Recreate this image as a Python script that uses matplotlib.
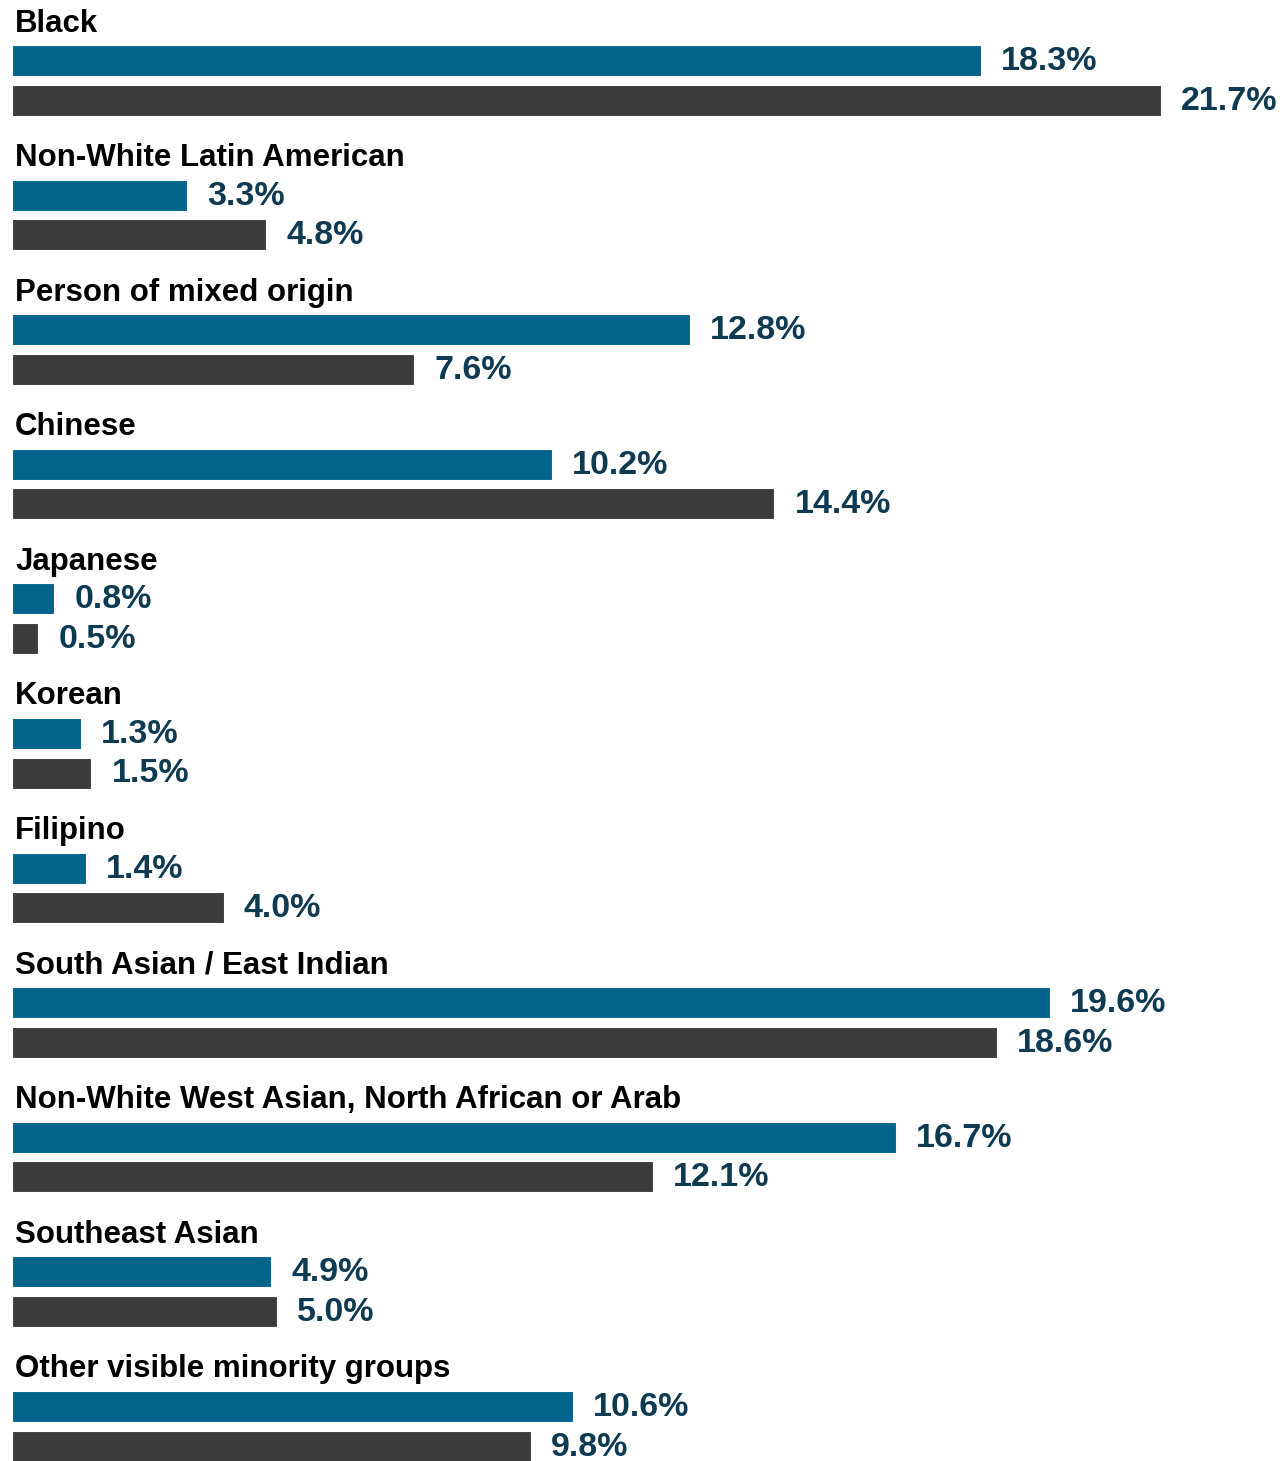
import matplotlib
matplotlib.use("Agg")
import matplotlib.pyplot as plt
from matplotlib import font_manager

categories = [
    "Black",
    "Non-White Latin American",
    "Person of mixed origin",
    "Chinese",
    "Japanese",
    "Korean",
    "Filipino",
    "South Asian / East Indian",
    "Non-White West Asian, North African or Arab",
    "Southeast Asian",
    "Other visible minority groups",
]
series_a = [18.3, 3.3, 12.8, 10.2, 0.8, 1.3, 1.4, 19.6, 16.7, 4.9, 10.6]
series_b = [21.7, 4.8, 7.6, 14.4, 0.5, 1.5, 4.0, 18.6, 12.1, 5.0, 9.8]

BLUE = "#02638B"
GREY = "#3C3C3C"
VALUE_COLOR = "#0E3A52"

names = {f.name for f in font_manager.fontManager.ttflist}
narrow = "Liberation Sans Narrow" if "Liberation Sans Narrow" in names else "Liberation Sans"

W, H = 1288, 1461
fig = plt.figure(figsize=(W / 100, H / 100), dpi=100)
ax = fig.add_axes([12 / W, 0, 1 - 12 / W, 1])
ax.set_xlim(0, (W - 12) / 52.95)
ax.set_ylim(H, 0)
ax.axis("off")

group_step = 134.6
first_center = 60.5
pair_gap = 39.5
bar_h = 31
pad = 20 / 52.95

for i, (cat, a, b) in enumerate(zip(categories, series_a, series_b)):
    ya = first_center + group_step * i
    yb = ya + pair_gap
    ax.barh(ya, a, height=bar_h, color=BLUE, edgecolor="white", linewidth=0.8)
    ax.barh(yb, b, height=bar_h, color=GREY, edgecolor="white", linewidth=0.8)
    ax.text(0.06, ya - 37, cat, ha="left", va="center", fontsize=22.5,
            fontweight="bold", family="Liberation Sans", color="black")
    for y, v in ((ya, a), (yb, b)):
        ax.text(v + pad, y + 1, f"{v:.1f}%", ha="left", va="center",
                fontsize=24.5, fontweight="bold", family=[narrow, "Liberation Sans"],
                color=VALUE_COLOR)

fig.savefig("out.png", dpi=100, facecolor="white")
